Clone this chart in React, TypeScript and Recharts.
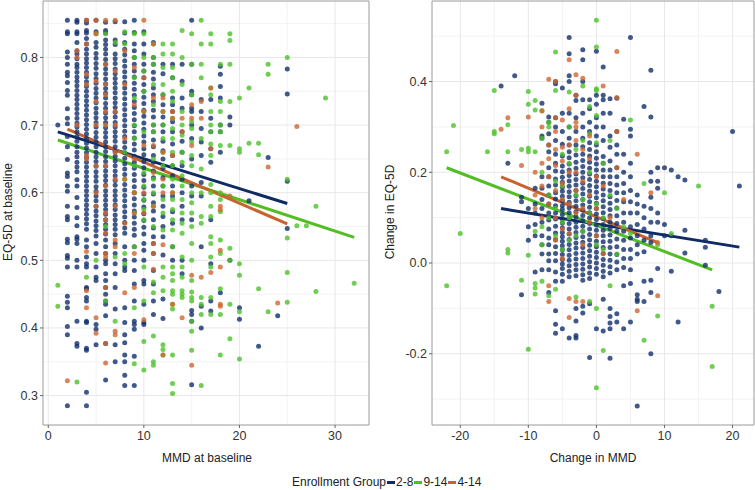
import {
  ScatterChart, Scatter, XAxis, YAxis, CartesianGrid, ReferenceLine, ReferenceArea
} from 'recharts';

// columns of points: [x, list of y values]
type Col = [number, number[]];

// ---- left panel: MMD at baseline vs EQ-5D at baseline ----
const NAVY_LEFT: Col[] = [
  [1, [0.700]],
  [2, [0.855, 0.838, 0.835, 0.808, 0.800, 0.790, 0.778, 0.773, 0.763, 0.751, 0.744, 0.724, 0.710, 0.702, 0.683, 0.668, 0.649, 0.629, 0.624, 0.610, 0.602, 0.580, 0.565, 0.560, 0.531, 0.526, 0.507, 0.503, 0.490, 0.447, 0.438, 0.430, 0.402, 0.390, 0.285]],
  [3, [0.855, 0.852, 0.838, 0.835, 0.822, 0.810, 0.805, 0.798, 0.790, 0.785, 0.778, 0.771, 0.765, 0.758, 0.751, 0.744, 0.738, 0.731, 0.724, 0.717, 0.710, 0.703, 0.697, 0.690, 0.683, 0.676, 0.668, 0.660, 0.653, 0.645, 0.638, 0.631, 0.619, 0.610, 0.593, 0.578, 0.563, 0.551, 0.535, 0.531, 0.525, 0.500, 0.490, 0.410, 0.377, 0.373]],
  [4, [0.855, 0.851, 0.840, 0.836, 0.828, 0.820, 0.812, 0.805, 0.798, 0.792, 0.785, 0.778, 0.771, 0.764, 0.757, 0.750, 0.743, 0.736, 0.729, 0.722, 0.715, 0.708, 0.701, 0.694, 0.687, 0.680, 0.673, 0.666, 0.659, 0.652, 0.645, 0.638, 0.631, 0.624, 0.617, 0.610, 0.603, 0.596, 0.589, 0.582, 0.575, 0.568, 0.561, 0.554, 0.546, 0.530, 0.520, 0.505, 0.495, 0.490, 0.460, 0.458, 0.445, 0.440, 0.410, 0.408, 0.370, 0.367, 0.305, 0.285]],
  [5, [0.855, 0.838, 0.822, 0.815, 0.806, 0.799, 0.791, 0.784, 0.776, 0.769, 0.762, 0.754, 0.747, 0.740, 0.733, 0.725, 0.718, 0.711, 0.704, 0.697, 0.689, 0.682, 0.675, 0.668, 0.660, 0.653, 0.646, 0.639, 0.631, 0.624, 0.617, 0.609, 0.602, 0.595, 0.588, 0.580, 0.573, 0.566, 0.558, 0.551, 0.544, 0.536, 0.525, 0.510, 0.490, 0.475, 0.470, 0.405, 0.398, 0.375]],
  [6, [0.852, 0.840, 0.836, 0.826, 0.819, 0.812, 0.805, 0.797, 0.790, 0.783, 0.776, 0.768, 0.761, 0.754, 0.747, 0.740, 0.732, 0.725, 0.718, 0.711, 0.704, 0.696, 0.689, 0.682, 0.675, 0.668, 0.661, 0.653, 0.646, 0.639, 0.632, 0.625, 0.618, 0.611, 0.603, 0.596, 0.589, 0.582, 0.575, 0.568, 0.560, 0.553, 0.546, 0.539, 0.530, 0.520, 0.510, 0.500, 0.495, 0.480, 0.470, 0.460, 0.450, 0.440, 0.435, 0.418, 0.377, 0.323]],
  [7, [0.853, 0.826, 0.819, 0.805, 0.798, 0.791, 0.783, 0.776, 0.769, 0.762, 0.755, 0.748, 0.740, 0.733, 0.726, 0.719, 0.712, 0.704, 0.697, 0.690, 0.683, 0.676, 0.668, 0.661, 0.654, 0.647, 0.640, 0.632, 0.625, 0.618, 0.611, 0.603, 0.596, 0.589, 0.582, 0.575, 0.567, 0.560, 0.553, 0.546, 0.538, 0.525, 0.510, 0.495, 0.480, 0.460, 0.428, 0.375, 0.350]],
  [8, [0.853, 0.836, 0.822, 0.812, 0.804, 0.795, 0.787, 0.779, 0.771, 0.763, 0.755, 0.747, 0.739, 0.731, 0.723, 0.715, 0.707, 0.699, 0.691, 0.683, 0.675, 0.667, 0.659, 0.651, 0.643, 0.635, 0.627, 0.612, 0.604, 0.596, 0.588, 0.580, 0.572, 0.564, 0.556, 0.548, 0.540, 0.520, 0.500, 0.490, 0.485, 0.430, 0.408, 0.390, 0.378, 0.360, 0.350, 0.330, 0.315]],
  [9, [0.855, 0.837, 0.820, 0.810, 0.800, 0.790, 0.780, 0.771, 0.762, 0.753, 0.744, 0.735, 0.726, 0.717, 0.708, 0.699, 0.690, 0.681, 0.672, 0.663, 0.654, 0.645, 0.636, 0.627, 0.618, 0.609, 0.600, 0.591, 0.582, 0.573, 0.564, 0.555, 0.546, 0.537, 0.520, 0.500, 0.485, 0.465, 0.440, 0.410, 0.405, 0.398, 0.358, 0.315]],
  [10, [0.838, 0.820, 0.805, 0.790, 0.780, 0.770, 0.760, 0.750, 0.741, 0.732, 0.722, 0.713, 0.703, 0.694, 0.684, 0.675, 0.665, 0.656, 0.646, 0.637, 0.627, 0.618, 0.608, 0.598, 0.589, 0.579, 0.569, 0.559, 0.549, 0.539, 0.525, 0.515, 0.500, 0.470, 0.465, 0.435, 0.408, 0.405]],
  [11, [0.822, 0.800, 0.790, 0.778, 0.768, 0.755, 0.745, 0.735, 0.722, 0.712, 0.700, 0.690, 0.678, 0.668, 0.655, 0.645, 0.632, 0.622, 0.610, 0.598, 0.585, 0.573, 0.560, 0.548, 0.535, 0.525, 0.510, 0.485, 0.465, 0.440, 0.420]],
  [12, [0.790, 0.776, 0.745, 0.730, 0.712, 0.700, 0.690, 0.676, 0.662, 0.650, 0.636, 0.622, 0.610, 0.595, 0.580, 0.565, 0.550, 0.535, 0.508, 0.443, 0.414]],
  [13, [0.790, 0.770, 0.740, 0.730, 0.720, 0.705, 0.690, 0.672, 0.655, 0.640, 0.625, 0.610, 0.595, 0.572, 0.555, 0.520, 0.500]],
  [14, [0.790, 0.765, 0.740, 0.725, 0.690, 0.676, 0.660, 0.640, 0.620, 0.600, 0.580, 0.560, 0.500, 0.480]],
  [15, [0.855, 0.790, 0.750, 0.745, 0.725, 0.720, 0.700, 0.680, 0.650, 0.610, 0.595, 0.560, 0.426, 0.420, 0.410, 0.316]],
  [16, [0.738, 0.720, 0.695, 0.675, 0.655, 0.615, 0.595, 0.520, 0.432, 0.400]],
  [17, [0.738, 0.710, 0.690, 0.665, 0.645, 0.560, 0.495, 0.440, 0.425]],
  [18, [0.787, 0.775, 0.757, 0.740, 0.700, 0.690, 0.660, 0.452]],
  [19, [0.712, 0.700, 0.500]],
  [20, [0.430, 0.413]],
  [21, [0.588]],
  [22, [0.373]],
  [23, [0.652]],
  [24, [0.418]],
  [25, [0.783, 0.746, 0.617, 0.547]],
];

const GREEN_LEFT: Col[] = [
  [1, [0.463, 0.432]],
  [3, [0.320]],
  [4, [0.475]],
  [5, [0.835, 0.500]],
  [6, [0.835, 0.550, 0.440]],
  [7, [0.822, 0.505, 0.410]],
  [8, [0.838, 0.820, 0.660, 0.620, 0.510, 0.495]],
  [9, [0.835, 0.800, 0.770, 0.740, 0.700, 0.680, 0.640, 0.600, 0.570, 0.520, 0.430, 0.347]],
  [10, [0.835, 0.800, 0.780, 0.750, 0.720, 0.690, 0.630, 0.610, 0.590, 0.575, 0.560, 0.490, 0.440, 0.380, 0.338]],
  [11, [0.820, 0.800, 0.790, 0.760, 0.730, 0.700, 0.690, 0.650, 0.620, 0.600, 0.580, 0.550, 0.468, 0.452, 0.388, 0.350, 0.345]],
  [12, [0.820, 0.805, 0.785, 0.760, 0.745, 0.720, 0.700, 0.680, 0.660, 0.640, 0.610, 0.590, 0.570, 0.545, 0.490, 0.475, 0.455, 0.375, 0.368, 0.360]],
  [13, [0.820, 0.805, 0.785, 0.770, 0.750, 0.735, 0.710, 0.695, 0.680, 0.660, 0.640, 0.620, 0.600, 0.590, 0.575, 0.560, 0.545, 0.520, 0.490, 0.480, 0.470, 0.455, 0.450, 0.435, 0.428, 0.360, 0.318, 0.303]],
  [14, [0.840, 0.800, 0.760, 0.720, 0.700, 0.685, 0.660, 0.645, 0.625, 0.610, 0.590, 0.570, 0.555, 0.540, 0.505, 0.490, 0.475, 0.455, 0.450, 0.445]],
  [15, [0.835, 0.790, 0.745, 0.705, 0.695, 0.675, 0.655, 0.640, 0.600, 0.585, 0.570, 0.550, 0.525, 0.500, 0.470, 0.453, 0.445, 0.440, 0.410, 0.395, 0.367]],
  [16, [0.855, 0.820, 0.790, 0.770, 0.680, 0.635, 0.600, 0.565, 0.555, 0.445, 0.435, 0.420, 0.315]],
  [17, [0.835, 0.820, 0.755, 0.745, 0.720, 0.700, 0.690, 0.672, 0.655, 0.612, 0.600, 0.580, 0.565, 0.535, 0.525, 0.505, 0.490, 0.445, 0.420]],
  [18, [0.790, 0.735, 0.720, 0.700, 0.690, 0.670, 0.600, 0.590, 0.572, 0.530, 0.510, 0.458, 0.420, 0.360]],
  [19, [0.835, 0.825, 0.790, 0.735, 0.670, 0.518, 0.500, 0.435, 0.384]],
  [20, [0.740, 0.665, 0.660, 0.495, 0.478, 0.424, 0.354]],
  [21, [0.755, 0.673]],
  [22, [0.673, 0.656, 0.458]],
  [23, [0.790, 0.775, 0.424]],
  [25, [0.800, 0.620, 0.533, 0.482, 0.438]],
  [26, [0.551]],
  [27, [0.551]],
  [28, [0.580, 0.454]],
  [29, [0.740]],
  [32, [0.466]],
];

const ORANGE_LEFT: Col[] = [
  [2, [0.322]],
  [3, [0.810, 0.800, 0.700]],
  [4, [0.855, 0.820, 0.775, 0.760, 0.655, 0.650, 0.513, 0.455, 0.430]],
  [5, [0.855, 0.835, 0.765, 0.735, 0.700, 0.640, 0.600, 0.580, 0.415, 0.392]],
  [6, [0.855, 0.790, 0.760, 0.745, 0.720, 0.700, 0.640, 0.610, 0.570, 0.560, 0.540, 0.510, 0.505, 0.460, 0.377, 0.348]],
  [7, [0.855, 0.780, 0.720, 0.700, 0.660, 0.620, 0.580, 0.530, 0.520, 0.395, 0.390]],
  [8, [0.810, 0.760, 0.680, 0.620, 0.555, 0.452]],
  [9, [0.785, 0.730, 0.650, 0.600, 0.570, 0.510, 0.460]],
  [10, [0.855, 0.770, 0.720, 0.670, 0.600, 0.570, 0.412]],
  [11, [0.820, 0.740, 0.670, 0.630, 0.580, 0.525, 0.510, 0.487]],
  [12, [0.740, 0.720, 0.660, 0.620, 0.600, 0.523, 0.360]],
  [13, [0.720, 0.710, 0.655, 0.600, 0.435]],
  [14, [0.710, 0.690, 0.415]],
  [15, [0.730, 0.710, 0.670, 0.478, 0.345]],
  [16, [0.735, 0.710, 0.475]],
  [17, [0.755, 0.665, 0.482]],
  [18, [0.580, 0.575, 0.515, 0.490, 0.435, 0.432]],
  [19, [0.595]],
  [23, [0.638]],
  [24, [0.437]],
  [26, [0.698]],
];

// ---- right panel: change in MMD vs change in EQ-5D ----
const NAVY_RIGHT: Col[] = [
  [-14, [0.390]],
  [-13, [0.220]],
  [-12, [0.413]],
  [-11, [0.145, 0.135, -0.070]],
  [-10, [0.120, 0.080, 0.050]],
  [-9, [0.165, 0.130, 0.110, 0.085, 0.060, -0.020]],
  [-8, [0.352, 0.280, 0.275, 0.190, 0.165, 0.140, 0.120, 0.090, 0.060, 0.040, 0.020, -0.015]],
  [-7, [0.322, 0.310, 0.285, 0.260, 0.245, 0.210, 0.190, 0.170, 0.150, 0.130, 0.110, 0.095, 0.075, 0.055, 0.040, 0.020, 0.005, -0.015, -0.065]],
  [-6, [0.400, 0.395, 0.320, 0.300, 0.270, 0.240, 0.220, 0.203, 0.185, 0.172, 0.155, 0.141, 0.126, 0.110, 0.097, 0.081, 0.066, 0.052, 0.036, 0.021, 0.005, -0.020, -0.040, -0.105, -0.135, -0.155]],
  [-5, [0.386, 0.330, 0.290, 0.262, 0.236, 0.214, 0.201, 0.189, 0.178, 0.167, 0.158, 0.147, 0.137, 0.126, 0.118, 0.107, 0.097, 0.088, 0.078, 0.067, 0.058, 0.048, 0.038, 0.029, 0.019, 0.008, -0.002, -0.012, -0.025, -0.040, -0.145]],
  [-4, [0.497, 0.461, 0.413, 0.400, 0.330, 0.300, 0.275, 0.260, 0.245, 0.232, 0.218, 0.205, 0.193, 0.181, 0.169, 0.157, 0.146, 0.134, 0.122, 0.111, 0.099, 0.087, 0.075, 0.064, 0.052, 0.041, 0.029, 0.017, 0.006, -0.006, -0.018, -0.030, -0.165]],
  [-3, [0.370, 0.358, 0.320, 0.290, 0.260, 0.238, 0.222, 0.209, 0.196, 0.184, 0.172, 0.160, 0.148, 0.137, 0.125, 0.113, 0.102, 0.090, 0.079, 0.067, 0.056, 0.044, 0.033, 0.021, 0.009, -0.003, -0.015, -0.028, -0.100, -0.128, -0.160, -0.165]],
  [-2, [0.470, 0.448, 0.400, 0.360, 0.330, 0.300, 0.275, 0.256, 0.240, 0.226, 0.213, 0.200, 0.188, 0.176, 0.164, 0.152, 0.140, 0.128, 0.117, 0.105, 0.093, 0.081, 0.070, 0.058, 0.046, 0.034, 0.022, 0.010, -0.002, -0.014, -0.026, -0.038, -0.095, -0.110]],
  [-1, [0.360, 0.340, 0.310, 0.290, 0.265, 0.250, 0.236, 0.222, 0.209, 0.196, 0.184, 0.171, 0.159, 0.147, 0.135, 0.123, 0.111, 0.099, 0.087, 0.075, 0.063, 0.051, 0.039, 0.027, 0.015, 0.003, -0.009, -0.022, -0.034, -0.090, -0.208]],
  [0, [0.467, 0.370, 0.350, 0.320, 0.300, 0.280, 0.260, 0.245, 0.231, 0.218, 0.205, 0.192, 0.180, 0.168, 0.156, 0.144, 0.132, 0.120, 0.108, 0.096, 0.084, 0.072, 0.060, 0.048, 0.036, 0.024, 0.012, 0.000, -0.012, -0.025, -0.145]],
  [1, [0.432, 0.370, 0.360, 0.330, 0.300, 0.270, 0.235, 0.220, 0.205, 0.190, 0.176, 0.163, 0.150, 0.137, 0.124, 0.111, 0.098, 0.085, 0.072, 0.060, 0.047, 0.034, 0.021, 0.008, -0.005, -0.018, -0.030, -0.080, -0.150]],
  [2, [0.362, 0.330, 0.280, 0.255, 0.225, 0.205, 0.190, 0.175, 0.160, 0.146, 0.132, 0.118, 0.104, 0.090, 0.076, 0.062, 0.048, 0.034, 0.020, 0.006, -0.008, -0.022, -0.100, -0.118, -0.132, -0.145, -0.210]],
  [3, [0.363, 0.290, 0.260, 0.240, 0.210, 0.190, 0.172, 0.155, 0.138, 0.121, 0.104, 0.087, 0.070, 0.053, 0.036, 0.019, 0.002, -0.015, -0.112, -0.130]],
  [4, [0.317, 0.240, 0.200, 0.175, 0.155, 0.135, 0.110, 0.090, 0.070, 0.050, 0.030, 0.010, -0.010, -0.050, -0.145]],
  [5, [0.497, 0.295, 0.280, 0.220, 0.190, 0.160, 0.135, 0.110, 0.080, 0.055, 0.030, 0.010, -0.015, -0.045, -0.130]],
  [6, [0.150, 0.130, 0.110, 0.085, 0.060, 0.040, 0.020, -0.070, -0.080, -0.085, -0.315]],
  [7, [0.345, 0.125, 0.100, 0.075, 0.050, 0.025, -0.040, -0.085]],
  [8, [0.425, 0.322, 0.200, 0.180, 0.145, 0.120, 0.090, 0.060, 0.045, -0.038, -0.065, -0.200]],
  [9, [0.210, 0.180, 0.165, 0.110, 0.090, -0.012]],
  [10, [0.210, 0.085, 0.060]],
  [11, [0.205, 0.060, -0.018]],
  [12, [0.190, -0.130]],
  [13, [0.183, 0.072, 0.022]],
  [16, [0.050, 0.035, -0.005]],
  [18, [-0.063]],
  [20, [0.290]],
  [21, [0.170]],
];

const GREEN_RIGHT: Col[] = [
  [-22, [0.245, -0.050]],
  [-21, [0.303]],
  [-20, [0.065]],
  [-16, [0.245]],
  [-15, [0.380, 0.290, 0.285]],
  [-13, [0.305, 0.245, 0.030, 0.022]],
  [-11, [0.250, -0.038]],
  [-10, [0.378, 0.350, 0.253, 0.245, 0.017, -0.190]],
  [-9, [0.358, 0.337, 0.245, 0.070, -0.045, -0.055, -0.068]],
  [-8, [0.336, 0.275, 0.200, 0.080, 0.040, -0.040]],
  [-7, [0.310, 0.300, 0.150, 0.100, -0.072]],
  [-6, [0.465, 0.380, 0.180, 0.120, 0.060, -0.058]],
  [-5, [0.240, 0.170, 0.090, 0.030]],
  [-4, [0.377, 0.300, 0.220, 0.100, 0.050]],
  [-3, [0.250, 0.150, 0.060, -0.075]],
  [-2, [0.390, 0.270, 0.140, 0.070]],
  [-1, [0.345, 0.285, 0.200, 0.110, -0.085]],
  [0, [0.535, 0.476, 0.384, 0.380, 0.325, 0.265, 0.130, 0.040, -0.100, -0.275]],
  [1, [0.220, 0.100, 0.030, -0.193]],
  [2, [0.270, 0.150, -0.050]],
  [3, [0.120, 0.020]],
  [4, [0.080]],
  [5, [0.315, 0.065]],
  [7, [0.175, -0.170]],
  [9, [0.040, -0.117]],
  [10, [0.155]],
  [11, [0.065]],
  [15, [0.170]],
  [17, [-0.095, -0.228]],
];

const ORANGE_RIGHT: Col[] = [
  [-14, [0.295]],
  [-13, [0.320]],
  [-11, [0.215]],
  [-10, [0.322]],
  [-9, [0.200, 0.150, 0.120]],
  [-8, [0.335, 0.300, 0.220, 0.170, 0.100]],
  [-7, [0.405, 0.260, 0.230, 0.190, 0.130, -0.050, -0.085]],
  [-6, [0.400, 0.320, 0.290, 0.250, 0.215, 0.160, 0.100, 0.050]],
  [-5, [0.315, 0.255, 0.225, 0.175, 0.140, 0.075, 0.010]],
  [-4, [0.448, 0.340, 0.260, 0.200, 0.130, 0.065, -0.078, -0.120]],
  [-3, [0.415, 0.370, 0.310, 0.300, 0.270, 0.200, 0.160, 0.110, -0.085]],
  [-2, [0.407, 0.250, 0.180, 0.120, 0.040, -0.085]],
  [-1, [0.280, 0.230, 0.150, 0.090]],
  [0, [0.190, 0.120, 0.060]],
  [1, [0.390, 0.170, 0.020]],
  [2, [0.100]],
  [3, [0.466, 0.365, 0.290, 0.210]],
  [4, [0.140]],
  [6, [0.240, -0.105]],
  [8, [0.155]],
  [9, [0.045, -0.072]],
];

// linear fit endpoints per group, [x, y]
const FIT_LEFT_NAVY = [[1, 0.690], [25, 0.584]];
const FIT_LEFT_GREEN = [[1, 0.678], [32, 0.534]];
const FIT_LEFT_ORANGE = [[2, 0.694], [25, 0.554]];
const FIT_RIGHT_NAVY = [[-14, 0.120], [21, 0.035]];
const FIT_RIGHT_GREEN = [[-22, 0.210], [17, -0.015]];
const FIT_RIGHT_ORANGE = [[-14, 0.190], [9, 0.045]];

const GROUPS = ['2-8', '9-14', '4-14'];

// axis ticks
const LEFT_X_TICKS = [0, 10, 20, 30];
const LEFT_X_MINOR = [5, 15, 25];
const LEFT_Y_TICKS = [0.3, 0.4, 0.5, 0.6, 0.7, 0.8];
const LEFT_Y_MINOR = [0.35, 0.45, 0.55, 0.65, 0.75, 0.85];
const RIGHT_X_TICKS = [-20, -10, 0, 10, 20];
const RIGHT_X_MINOR = [-15, -5, 5, 15];
const RIGHT_Y_TICKS = [-0.2, 0.0, 0.2, 0.4];
const RIGHT_Y_MINOR = [-0.3, -0.1, 0.1, 0.3, 0.5];

const NAVY = '#12306a';
const GREEN = '#4ec22a';
const ORANGE = '#d0662f';
const LINE_COLORS = ['#0f2b63', '#53bd24', '#c9632d'];
const FONT = '"Liberation Sans", Arial, sans-serif';

const flatten = (cols: Col[]) => cols.flatMap(([x, ys]) => ys.map((y) => ({ x, y })));

const dot = (fill: string) => (props: any) => (
  <circle cx={props.cx} cy={props.cy} r={2.5} fill={fill} fillOpacity={0.8} />
);

const tickStyle = { fill: '#333', fontSize: 12.5, fontFamily: FONT };

function Panel({ navy, green, orange, fits, xDomain, yDomain, xTicks, xMinor, yTicks, yMinor, yWidth, right }: any) {
  return (
    <ScatterChart width={380} height={460} margin={{ top: 1, right, bottom: 0, left: 0 }}>
      <CartesianGrid stroke="#f3f3f3" horizontalValues={yMinor} verticalValues={xMinor} />
      <CartesianGrid stroke="#e8e8e8" horizontalValues={yTicks} verticalValues={xTicks} />
      <XAxis
        type="number" dataKey="x" domain={xDomain} ticks={xTicks} allowDataOverflow
        height={35} tick={tickStyle} axisLine={false} tickLine={{ stroke: '#666' }} tickSize={3} tickMargin={3}
      />
      <YAxis
        type="number" dataKey="y" domain={yDomain} ticks={yTicks} allowDataOverflow width={yWidth}
        tick={tickStyle} axisLine={false} tickLine={{ stroke: '#666' }} tickSize={3} tickMargin={2}
        tickFormatter={(v: number) => v.toFixed(1)}
      />
      <Scatter data={flatten(navy)} shape={dot(NAVY)} isAnimationActive={false} />
      <Scatter data={flatten(green)} shape={dot(GREEN)} isAnimationActive={false} />
      <Scatter data={flatten(orange)} shape={dot(ORANGE)} isAnimationActive={false} />
      {fits.map((f: number[][], i: number) => (
        <ReferenceLine
          key={i}
          segment={[{ x: f[0][0], y: f[0][1] }, { x: f[1][0], y: f[1][1] }]}
          stroke={LINE_COLORS[i]} strokeWidth={3} ifOverflow="visible"
        />
      ))}
      <ReferenceArea
        x1={xDomain[0]} x2={xDomain[1]} y1={yDomain[0]} y2={yDomain[1]}
        fill="none" stroke="#9a9a9a" strokeWidth={1} ifOverflow="visible"
      />
    </ScatterChart>
  );
}

const titleStyle: any = { position: 'absolute', fontSize: 12, fontFamily: FONT, color: '#222', whiteSpace: 'nowrap' };

export default function App() {
  return (
    <div style={{ position: 'absolute', left: 0, top: 0, width: 755, height: 490, background: '#fff', overflow: 'hidden' }}>
      <div style={{ position: 'absolute', left: 0, top: 0 }}>
        <Panel
          navy={NAVY_LEFT} green={GREEN_LEFT} orange={ORANGE_LEFT}
          fits={[FIT_LEFT_NAVY, FIT_LEFT_GREEN, FIT_LEFT_ORANGE]}
          xDomain={[-0.55, 33.55]} yDomain={[0.2565, 0.8835]}
          xTicks={LEFT_X_TICKS} xMinor={LEFT_X_MINOR} yTicks={LEFT_Y_TICKS} yMinor={LEFT_Y_MINOR}
          yWidth={43} right={11}
        />
      </div>
      <div style={{ position: 'absolute', left: 375, top: 0 }}>
        <Panel
          navy={NAVY_RIGHT} green={GREEN_RIGHT} orange={ORANGE_RIGHT}
          fits={[FIT_RIGHT_NAVY, FIT_RIGHT_GREEN, FIT_RIGHT_ORANGE]}
          xDomain={[-24.15, 23.15]} yDomain={[-0.357, 0.5775]}
          xTicks={RIGHT_X_TICKS} xMinor={RIGHT_X_MINOR} yTicks={RIGHT_Y_TICKS} yMinor={RIGHT_Y_MINOR}
          yWidth={57} right={1}
        />
      </div>
      <div style={{ ...titleStyle, left: 8, top: 212, transform: 'translate(-50%, -50%) rotate(-90deg)' }}>EQ-5D at baseline</div>
      <div style={{ ...titleStyle, left: 207, top: 458, transform: 'translate(-50%, -50%)' }}>MMD at baseline</div>
      <div style={{ ...titleStyle, left: 390, top: 212, transform: 'translate(-50%, -50%) rotate(-90deg)' }}>Change in EQ-5D</div>
      <div style={{ ...titleStyle, left: 593, top: 458, transform: 'translate(-50%, -50%)' }}>Change in MMD</div>
      <div style={{ ...titleStyle, left: 292, top: 475, display: 'flex', alignItems: 'center', lineHeight: '14px' }}>
        <span>Enrollment Group</span>
        {GROUPS.map((g, i) => (
          <span key={g} style={{ display: 'flex', alignItems: 'center' }}>
            <span style={{ display: 'inline-block', width: 8, height: 3, background: LINE_COLORS[i], margin: '0 1px 0 1px' }} />
            <span>{g}</span>
          </span>
        ))}
      </div>
    </div>
  );
}
